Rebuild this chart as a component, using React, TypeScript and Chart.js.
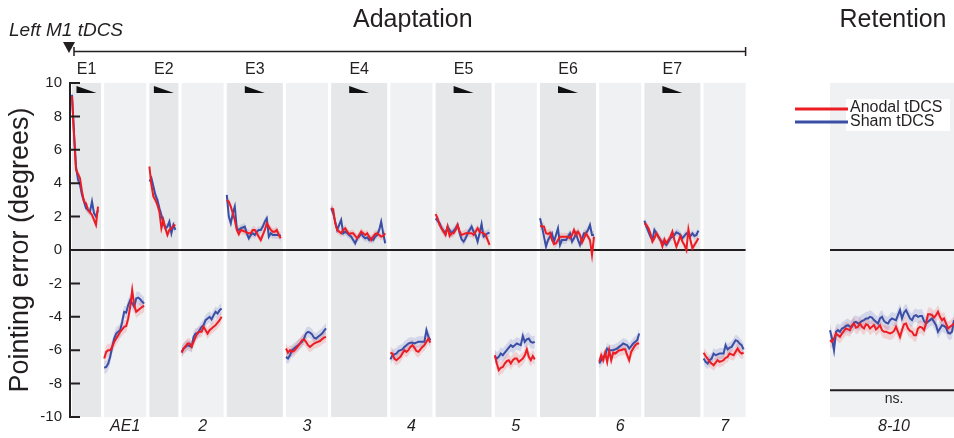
import React, { useEffect, useRef } from "react";
import { Chart, registerables } from "chart.js";
Chart.register(...registerables);

// ---------------- DATA ----------------
const blockNames = ["E1", "AE1", "E2", "AE2", "E3", "AE3", "E4", "AE4", "E5", "AE5", "E6", "AE6", "E7", "AE7", "R"];
const topLabels = ["E1", "", "E2", "", "E3", "", "E4", "", "E5", "", "E6", "", "E7", "", ""];
const bottomLabels = ["", "AE1", "", "2", "", "3", "", "4", "", "5", "", "6", "", "7", "8-10"];
const yTicks = [-10, -8, -6, -4, -2, 0, 2, 4, 6, 8, 10];

const anodalE1 = [9.2, 6.9, 4.8, 4.55, 4.3, 3.5, 2.9, 2.8, 2.4, 2.25, 2.1, 1.8, 1.5, 2.6];
const shamE1 = [9.3, 7.0, 5.0, 4.2, 3.9, 3.3, 2.9, 2.5, 2.4, 2.3, 2.9, 2.2, 2.0, 2.4];
const anodalAE1 = [-6.5, -6.1, -6.0, -6.0, -5.8, -5.5, -5.3, -5.1, -4.9, -4.75, -4.6, -4.55, -4.1, -3.4, -2.4, -3.3, -3.7, -3.6, -3.5, -3.4, -3.35];
const shamAE1 = [-7.05, -7.0, -6.8, -6.4, -5.8, -5.3, -5.0, -4.9, -4.8, -4.3, -3.7, -3.75, -3.3, -3.0, -3.2, -3.4, -2.9, -2.85, -2.95, -3.1, -3.2];
const anodalE2 = [5.0, 3.9, 3.2, 3.0, 2.7, 2.3, 1.3, 1.8, 1.3, 0.9, 1.2, 1.3, 1.45, 1.5];
const shamE2 = [4.1, 4.3, 3.8, 3.3, 3.0, 2.5, 2.1, 1.6, 1.3, 1.4, 1.7, 1.0, 1.5, 1.2];
const anodalAE2 = [-6.15, -5.9, -5.75, -5.6, -5.6, -5.8, -5.5, -5.2, -4.95, -4.9, -4.9, -4.6, -4.8, -5.0, -4.8, -4.7, -4.6, -4.5, -4.35, -4.2, -4.0];
const shamAE2 = [-6.1, -5.9, -5.8, -5.7, -5.75, -5.8, -5.2, -5.0, -5.0, -4.8, -4.6, -4.5, -4.2, -4.1, -4.0, -4.15, -3.9, -3.7, -3.8, -3.6, -3.5];
const anodalE3 = [3.0, 2.9, 2.6, 2.2, 1.8, 1.2, 0.95, 1.2, 1.15, 1.1, 1.05, 1.0, 1.0, 1.2, 1.2, 1.0, 0.8, 0.6, 0.9, 1.2, 1.6, 1.4, 1.2, 1.1, 1.1, 1.2, 0.9, 0.7];
const shamE3 = [3.3, 2.0, 1.6, 2.2, 2.6, 1.3, 1.2, 1.3, 1.35, 1.4, 1.0, 0.7, 0.9, 1.0, 0.9, 1.1, 1.2, 1.2, 1.4, 1.7, 1.9, 0.8, 1.0, 0.9, 0.9, 0.9, 0.9, 0.85];
const anodalAE3 = [-5.9, -6.15, -6.0, -6.1, -6.05, -5.9, -5.75, -5.6, -5.4, -5.35, -5.5, -5.7, -5.8, -5.7, -5.6, -5.55, -5.5, -5.45, -5.35, -5.25, -5.2];
const shamAE3 = [-6.4, -6.5, -6.3, -6.0, -5.9, -5.8, -5.7, -5.6, -5.5, -5.3, -5.0, -4.9, -4.95, -5.05, -5.25, -5.3, -5.2, -5.1, -5.0, -4.85, -4.7];
const anodalE4 = [2.5, 2.45, 1.6, 1.2, 1.1, 1.0, 1.2, 1.3, 1.1, 0.95, 1.0, 1.0, 0.85, 0.7, 0.9, 1.1, 1.0, 0.9, 1.0, 0.8, 0.6, 0.8, 0.96, 1.0, 0.9, 0.8, 0.85, 1.0];
const shamE4 = [2.5, 2.2, 1.7, 1.2, 1.5, 1.8, 1.0, 1.1, 1.0, 0.9, 0.8, 0.6, 0.4, 0.7, 0.8, 1.0, 0.8, 0.7, 0.75, 0.6, 0.7, 0.6, 0.8, 0.9, 1.2, 1.7, 1.0, 0.4];
const anodalAE4 = [-6.15, -6.2, -6.5, -6.6, -6.5, -6.4, -6.2, -6.0, -6.1, -6.0, -5.8, -5.7, -5.85, -6.05, -6.1, -5.95, -5.8, -5.7, -5.5, -5.3, -5.55];
const shamAE4 = [-6.55, -6.3, -6.25, -6.2, -6.05, -6.0, -5.95, -5.8, -5.7, -5.6, -5.55, -5.55, -5.6, -5.55, -5.5, -5.5, -5.5, -5.5, -4.8, -5.2, -5.4];
const anodalE5 = [2.15, 1.9, 1.5, 1.3, 1.1, 0.9, 1.4, 0.84, 1.0, 1.0, 1.2, 1.5, 1.1, 0.9, 0.95, 1.0, 1.0, 1.0, 1.0, 0.9, 1.1, 1.3, 1.1, 1.04, 1.0, 0.9, 0.6, 0.3];
const shamE5 = [1.9, 1.75, 1.6, 1.3, 1.15, 1.0, 1.4, 1.2, 1.0, 1.15, 1.3, 1.5, 1.0, 0.64, 0.5, 0.7, 1.0, 1.2, 1.4, 1.1, 0.9, 0.5, 1.0, 1.56, 0.8, 0.9, 1.0, 1.04];
const anodalAE5 = [-6.3, -6.8, -7.2, -7.05, -7.0, -6.8, -6.65, -6.6, -6.8, -6.6, -6.5, -6.5, -6.7, -6.6, -6.5, -6.3, -5.95, -6.4, -6.6, -6.35, -6.55];
const shamAE5 = [-6.35, -6.5, -6.4, -6.2, -6.3, -6.15, -6.0, -5.85, -5.7, -5.8, -5.7, -5.6, -5.65, -5.7, -5.15, -5.5, -5.35, -5.3, -5.5, -5.55, -5.5];
const anodalE6 = [1.44, 1.42, 1.4, 1.0, 0.96, 1.04, 0.6, 0.36, 0.4, 0.6, 0.8, 0.8, 0.8, 0.8, 0.8, 0.7, 0.9, 1.2, 0.9, 1.1, 0.9, 0.44, 0.7, 1.0, 0.8, 0.6, -0.3, 0.8];
const shamE6 = [1.9, 1.4, 0.8, 0.2, 0.6, 0.8, 1.0, 0.5, 0.9, 1.3, 0.3, 0.6, 0.6, 0.6, 0.8, 1.0, 0.5, 0.7, 1.0, 0.6, 0.3, 0.7, 1.0, 1.0, 1.2, 1.5, 0.9, 0.9];
const anodalAE6 = [-6.7, -6.3, -6.6, -6.15, -6.7, -6.0, -6.6, -6.15, -6.2, -6.1, -6.0, -6.0, -5.95, -5.95, -6.3, -6.6, -6.1, -5.9, -5.7, -5.6, -5.6];
const shamAE6 = [-6.8, -6.6, -6.4, -6.3, -5.9, -6.0, -6.0, -6.0, -5.95, -5.9, -5.8, -5.7, -5.6, -5.65, -5.7, -5.9, -5.75, -5.6, -5.5, -5.4, -5.0];
const anodalE7 = [1.6, 1.5, 1.3, 1.0, 0.5, 0.7, 1.0, 0.8, 0.6, 0.2, 0.64, 0.4, 0.6, 0.8, 1.1, 0.6, 0.2, 0.5, 0.84, 0.5, 0.3, 0.0, 1.24, 0.6, 0.1, 0.3, 0.5, 0.7];
const shamE7 = [1.75, 1.4, 1.1, 0.8, 0.6, 1.2, 1.0, 0.8, 0.6, 0.5, 0.4, 0.3, 0.5, 0.7, 0.8, 0.9, 1.06, 1.0, 0.9, 0.7, 0.85, 1.0, 0.9, 0.84, 1.0, 0.84, 0.9, 1.16];
const anodalAE7 = [-6.15, -6.35, -6.5, -6.7, -6.8, -6.9, -6.75, -6.6, -6.7, -6.65, -6.6, -6.45, -6.4, -6.2, -6.25, -6.3, -6.1, -5.9, -6.1, -6.2, -6.15];
const shamAE7 = [-6.5, -6.7, -6.8, -6.6, -6.5, -6.2, -6.3, -6.25, -6.2, -6.2, -6.2, -5.7, -5.95, -5.85, -5.8, -5.6, -5.4, -5.45, -5.6, -5.7, -5.95];
const anodalRet = [
  -5.4, -5.5, -5.3, -5.0, -5.1, -5.2, -5.0, -4.85, -4.7, -4.75,
  -4.8, -4.5, -4.4, -4.65, -4.6, -4.4, -4.6, -4.7, -4.45, -4.5,
  -4.7, -4.6, -4.5, -4.75, -4.65, -4.5, -4.8, -4.9, -4.9, -4.95,
  -5.0, -4.95, -4.85, -4.6, -4.9, -5.2, -4.8, -4.45, -4.4, -4.7,
  -4.85, -4.9, -5.1, -5.1, -4.7, -4.6, -4.65, -4.8, -4.4, -3.85,
  -3.85, -3.9, -4.05, -3.9, -3.7, -4.0, -4.2, -4.1, -4.4, -4.7,
  -4.6, -4.5, -4.4,
];
const shamRet = [
  -4.8, -5.3, -6.0, -4.9, -4.8, -4.9, -4.7, -4.65, -4.55, -4.5,
  -4.6, -4.6, -4.35, -4.3, -4.4, -4.35, -4.25, -4.2, -4.1, -4.1,
  -4.0, -4.05, -4.2, -4.3, -4.4, -4.1, -4.0, -4.25, -4.35, -4.4,
  -4.2, -4.1, -4.15, -4.2, -3.9, -3.6, -4.1, -3.75, -3.6, -3.85,
  -4.1, -4.2, -3.95, -3.9, -4.0, -3.95, -3.95, -4.25, -4.4, -4.3,
  -4.2, -4.1, -4.3, -4.5, -4.9, -4.7, -4.5, -4.55, -4.65, -4.95,
  -5.0, -4.9, -4.2,
];
// standard error per block
const semAnodal = [0.22, 0.38, 0.22, 0.33, 0.22, 0.33, 0.22, 0.33, 0.24, 0.38, 0.24, 0.33, 0.22, 0.33, 0.4];
const semSham = [0.22, 0.38, 0.22, 0.33, 0.22, 0.33, 0.22, 0.33, 0.24, 0.38, 0.24, 0.33, 0.22, 0.33, 0.4];

const anodalBlocks = [anodalE1, anodalAE1, anodalE2, anodalAE2, anodalE3, anodalAE3, anodalE4, anodalAE4, anodalE5, anodalAE5, anodalE6, anodalAE6, anodalE7, anodalAE7, anodalRet];
const shamBlocks = [shamE1, shamAE1, shamE2, shamAE2, shamE3, shamAE3, shamE4, shamAE4, shamE5, shamAE5, shamE6, shamAE6, shamE7, shamAE7, shamRet];

// ---------------- LAYOUT (trial units) ----------------
const blockWidths = [14.5, 21, 14.5, 21, 28, 21, 28, 21, 28, 21, 28, 21, 28, 21, 64];
const blockGap = 1.6;
const retentionStart = 379;
const blockStarts: number[] = [];
{
  let s = 0;
  for (let i = 0; i < blockWidths.length - 1; i++) {
    blockStarts.push(s);
    s += blockWidths[i] + blockGap;
  }
  blockStarts.push(retentionStart);
}

const FONT = '"Liberation Sans", Arial, Helvetica, sans-serif';
const INK = "#231f20";
const RED = "#ed1c24";
const BLUE = "#3a4ea6";

function build(blocks: number[][], sem: number[]) {
  const mean: any[] = [], up: any[] = [], lo: any[] = [];
  blocks.forEach((vals, b) => {
    const s = blockStarts[b];
    vals.forEach((v, i) => {
      mean.push({ x: s + i, y: v });
      up.push({ x: s + i, y: v + sem[b] });
      lo.push({ x: s + i, y: v - sem[b] });
    });
    const gx = s + vals.length - 0.5;
    mean.push({ x: gx, y: null });
    up.push({ x: gx, y: null });
    lo.push({ x: gx, y: null });
  });
  return { mean, up, lo };
}

const decor = {
  id: "decor",
  beforeDatasetsDraw(chart: any) {
    const { ctx, chartArea, scales } = chart;
    const xs = scales.x, ys = scales.y;
    ctx.save();
    blockNames.forEach((n, b) => {
      const x0 = xs.getPixelForValue(blockStarts[b]);
      const x1 = Math.min(xs.getPixelForValue(blockStarts[b] + blockWidths[b]), chartArea.right);
      ctx.fillStyle = n.startsWith("E") ? "#e6e7e9" : "#f0f1f3";
      ctx.fillRect(x0, chartArea.top, x1 - x0, chartArea.bottom - chartArea.top);
    });
    const y0 = ys.getPixelForValue(0);
    const adaptEnd = xs.getPixelForValue(blockStarts[13] + blockWidths[13]);
    const retX = xs.getPixelForValue(retentionStart);
    ctx.strokeStyle = INK;
    ctx.lineWidth = 2;
    ctx.beginPath();
    ctx.moveTo(chartArea.left, y0);
    ctx.lineTo(adaptEnd, y0);
    ctx.moveTo(retX, y0);
    ctx.lineTo(chartArea.right, y0);
    const yns = ys.getPixelForValue(-8.4);
    ctx.moveTo(retX, yns);
    ctx.lineTo(chartArea.right, yns);
    ctx.stroke();
    ctx.restore();
  },
  afterDraw(chart: any) {
    const { ctx, chartArea, scales } = chart;
    const xs = scales.x, ys = scales.y;
    ctx.save();
    // inward ticks
    ctx.strokeStyle = INK;
    ctx.lineWidth = 2;
    ctx.beginPath();
    yTicks.forEach((v) => {
      const y = ys.getPixelForValue(v);
      ctx.moveTo(chartArea.left, y);
      ctx.lineTo(chartArea.left + 10, y);
    });
    ctx.stroke();
    // triangles and E labels
    ctx.fillStyle = INK;
    ctx.textAlign = "center";
    ctx.textBaseline = "middle";
    blockNames.forEach((n, b) => {
      const cx = xs.getPixelForValue(blockStarts[b] + blockWidths[b] / 2);
      if (topLabels[b]) {
        ctx.fillStyle = "#111";
        ctx.beginPath();
        ctx.moveTo(cx - 10, chartArea.top + 3);
        ctx.lineTo(cx - 10, chartArea.top + 10);
        ctx.lineTo(cx + 10, chartArea.top + 10);
        ctx.closePath();
        ctx.fill();
        ctx.fillStyle = INK;
        ctx.font = `16px ${FONT}`;
        ctx.fillText(topLabels[b], cx, 70);
      }
      if (bottomLabels[b]) {
        ctx.fillStyle = INK;
        ctx.font = `italic 16px ${FONT}`;
        ctx.fillText(bottomLabels[b], cx, 427);
      }
    });
    // ns.
    const retC = xs.getPixelForValue(retentionStart + blockWidths[14] / 2);
    ctx.font = `14px ${FONT}`;
    ctx.fillText("ns.", retC, 399);
    // titles
    const bl = xs.getPixelForValue(1);
    const br = xs.getPixelForValue(blockStarts[13] + blockWidths[13]);
    ctx.font = `25px ${FONT}`;
    ctx.fillText("Adaptation", (bl + br) / 2 + 3, 20);
    ctx.fillText("Retention", retC - 1, 20);
    // Left M1 tDCS
    ctx.textAlign = "left";
    ctx.font = `italic 19px ${FONT}`;
    ctx.fillText("Left M1 tDCS", 9, 31);
    // marker triangle
    ctx.beginPath();
    ctx.moveTo(63, 42);
    ctx.lineTo(75, 42);
    ctx.lineTo(69, 53);
    ctx.closePath();
    ctx.fill();
    // bracket
    ctx.lineWidth = 1.5;
    ctx.beginPath();
    ctx.moveTo(bl, 51.5);
    ctx.lineTo(br, 51.5);
    ctx.moveTo(bl, 47);
    ctx.lineTo(bl, 56);
    ctx.moveTo(br, 47);
    ctx.lineTo(br, 56);
    ctx.stroke();
    // legend
    ctx.fillStyle = "#ffffff";
    ctx.fillRect(846, 99, 104, 32);
    ctx.lineWidth = 3;
    ctx.strokeStyle = RED;
    ctx.beginPath();
    ctx.moveTo(795, 109);
    ctx.lineTo(848, 109);
    ctx.stroke();
    ctx.strokeStyle = BLUE;
    ctx.beginPath();
    ctx.moveTo(795, 122);
    ctx.lineTo(848, 122);
    ctx.stroke();
    ctx.fillStyle = INK;
    ctx.font = `16px ${FONT}`;
    ctx.textBaseline = "middle";
    ctx.fillText("Anodal tDCS", 850, 108);
    ctx.fillText("Sham tDCS", 850, 122);
    ctx.restore();
  },
};

export default function App() {
  const ref = useRef<HTMLCanvasElement>(null);
  useEffect(() => {
    const a = build(anodalBlocks, semAnodal);
    const s = build(shamBlocks, semSham);
    const line = (data: any[], color: string, order: number) => ({
      data, borderColor: color, borderWidth: 2, pointRadius: 0, fill: false, tension: 0, spanGaps: false, order,
    });
    const band = (data: any[], color: string, fill: any, order: number) => ({
      data, borderColor: "transparent", borderWidth: 0, pointRadius: 0, backgroundColor: color, fill, tension: 0, spanGaps: false, order,
    });
    const chart = new Chart(ref.current as HTMLCanvasElement, {
      type: "line",
      data: {
        datasets: [
          line(a.mean, RED, 0) as any,
          line(s.mean, BLUE, 1) as any,
          band(a.up, "rgba(237,28,36,0.15)", "+1", 2) as any,
          band(a.lo, "rgba(237,28,36,0.15)", false, 2) as any,
          band(s.up, "rgba(70,85,180,0.17)", "+1", 3) as any,
          band(s.lo, "rgba(70,85,180,0.17)", false, 3) as any,
        ],
      },
      options: {
        animation: false,
        responsive: false,
        devicePixelRatio: 1,
        layout: { padding: { left: 0, top: 83, right: 0, bottom: 21 } },
        plugins: { legend: { display: false }, tooltip: { enabled: false } },
        scales: {
          x: { type: "linear", min: -1, max: 441, display: false },
          y: {
            min: -10,
            max: 10,
            afterFit: (sc: any) => { sc.width = 70; },
            grid: { drawOnChartArea: false, drawTicks: false },
            border: { display: true, color: INK, width: 2 },
            ticks: { stepSize: 2, padding: 8, color: INK, font: { size: 15, family: FONT } },
            title: { display: true, text: "Pointing error (degrees)", color: INK, font: { size: 27, family: FONT }, padding: { top: 4, bottom: 4 } },
          },
        },
      },
      plugins: [decor],
    } as any);
    return () => chart.destroy();
  }, []);
  return (
    <div style={{ position: "absolute", left: 0, top: 0, width: 954, height: 438, background: "#fff" }}>
      <canvas ref={ref} width={954} height={438} style={{ display: "block", width: 954, height: 438 }} />
    </div>
  );
}
